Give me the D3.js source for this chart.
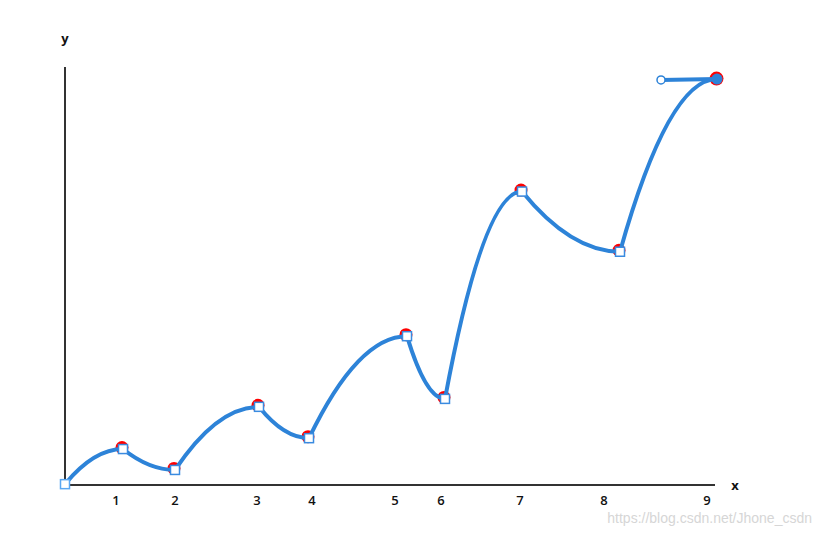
<!DOCTYPE html>
<html>
<head>
<meta charset="utf-8">
<script src="https://cdn.jsdelivr.net/npm/d3@7"></script>
<style>
  html, body { margin: 0; padding: 0; background: #fff; }
  svg { display: block; font-family: "Open Sans", "Liberation Sans", Arial, sans-serif; }
</style>
</head>
<body>
<svg id="chart" width="820" height="537"></svg>
<script>
// ---- data ----
const pointX = [0, 58, 110, 194, 244, 342, 380, 457, 555, 652];
const pointY = [0.2, 8.6, 3.6, 18.7, 11.2, 35.6, 20.6, 70.2, 55.8, 97.1];
const handleX = [596];
const handleY = [96.9];
const tickLabels = ["1", "2", "3", "4", "5", "6", "7", "8", "9"];
const tickPositions = [51, 110, 192, 247, 330, 376, 455, 539, 642];
const xDomain = [0, 650];
const yDomain = [0, 100];

// ---- layout ----
const svg = d3.select("#chart");
const x = d3.scaleLinear().domain(xDomain).range([65, 715]);
const y = d3.scaleLinear().domain(yDomain).range([485, 67]);

// axes
svg.append("line")
  .attr("x1", x(0)).attr("x2", x(0))
  .attr("y1", y(yDomain[1])).attr("y2", y(0))
  .attr("stroke", "#333").attr("stroke-width", 2);
svg.append("line")
  .attr("x1", x(0)).attr("x2", x(xDomain[1]))
  .attr("y1", y(0)).attr("y2", y(0))
  .attr("stroke", "#333").attr("stroke-width", 2);

svg.append("g").selectAll("text")
  .data(tickLabels)
  .join("text")
  .attr("x", (d, i) => x(tickPositions[i]))
  .attr("y", 505)
  .attr("text-anchor", "middle")
  .attr("font-size", 13)
  .attr("font-weight", 600)
  .attr("fill", "#111")
  .text(d => d);

svg.append("text").attr("x", 65).attr("y", 43)
  .attr("text-anchor", "middle").attr("font-size", 13).attr("font-weight", "bold")
  .attr("fill", "#111").text("y");
svg.append("text").attr("x", 735).attr("y", 490)
  .attr("text-anchor", "middle").attr("font-size", 13).attr("font-weight", "bold")
  .attr("fill", "#111").text("x");

// curve: one quadratic segment per pair, ending flat
const pts = pointX.map((v, i) => [x(v), y(pointY[i])]);
const p = d3.path();
p.moveTo(pts[0][0], pts[0][1]);
for (let i = 1; i < pts.length; i++) {
  const [x0] = pts[i - 1];
  const [x1, y1] = pts[i];
  p.quadraticCurveTo((x0 + x1) / 2, y1, x1, y1);
}
const lineColor = "#2d83d8";

const hx = x(handleX[0]), hy = y(handleY[0]);
const last = pts[pts.length - 1];

// red circles (behind)
svg.append("g").selectAll("circle")
  .data(pts.slice(1, -1))
  .join("circle")
  .attr("cx", d => d[0] - 1)
  .attr("cy", d => d[1] - 1.5)
  .attr("r", 6.5)
  .attr("fill", "#f00");

// last point red halo
svg.append("circle").attr("cx", last[0] - 0.5).attr("cy", last[1] - 0.5)
  .attr("r", 7).attr("fill", "#f00");

svg.append("path").attr("d", p.toString())
  .attr("fill", "none").attr("stroke", lineColor).attr("stroke-width", 4)
  .attr("stroke-linecap", "round");

svg.append("line").attr("x1", hx).attr("y1", hy).attr("x2", last[0]).attr("y2", last[1])
  .attr("stroke", lineColor).attr("stroke-width", 4);

svg.append("circle").attr("cx", hx).attr("cy", hy).attr("r", 4)
  .attr("fill", "#fff").attr("stroke", lineColor).attr("stroke-width", 1.5);

svg.append("circle").attr("cx", last[0]).attr("cy", last[1]).attr("r", 5.5)
  .attr("fill", lineColor);

// squares
const s = 9;
svg.append("g").selectAll("rect")
  .data(pts.slice(0, -1))
  .join("rect")
  .attr("x", d => d[0] - s / 2)
  .attr("y", d => d[1] - s / 2)
  .attr("width", s).attr("height", s)
  .attr("fill", "#fff")
  .attr("stroke", (d, i) => i === 0 ? "#5aa7f2" : "#3a8be0")
  .attr("stroke-width", 1.5);

// watermark
svg.append("text").attr("x", 812).attr("y", 523)
  .attr("text-anchor", "end").attr("font-size", 14)
  .attr("font-family", "Liberation Sans, Arial, sans-serif")
  .attr("fill", "#d6d6d6").text("https://blog.csdn.net/Jhone_csdn");
</script>
</body>
</html>
